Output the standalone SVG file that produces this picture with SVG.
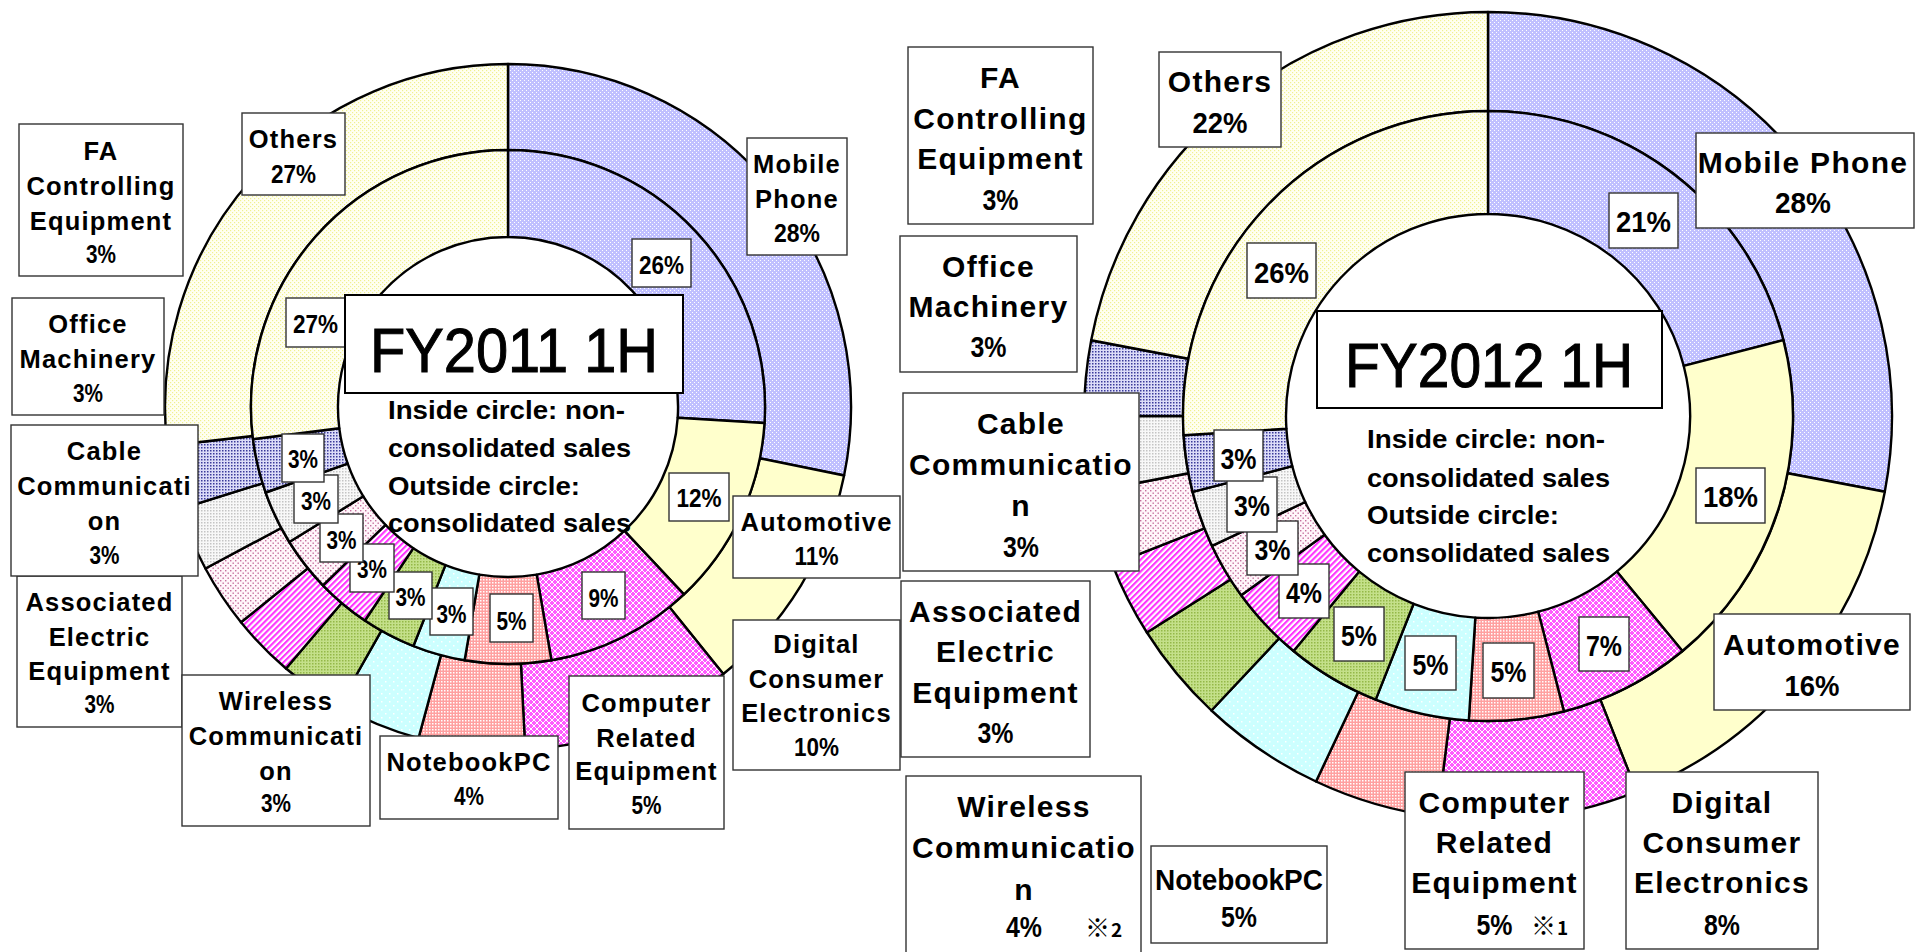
<svg xmlns="http://www.w3.org/2000/svg" width="1916" height="952" viewBox="0 0 1916 952">
<defs>
<style>
.sl{stroke:#000;stroke-width:2.4;stroke-linejoin:round}
.bx{fill:#fff;stroke:#333;stroke-width:1.4}
.tb{fill:#fff;stroke:#000;stroke-width:2}
text{font-family:"Liberation Sans",Arial,"Noto Sans CJK JP",sans-serif;fill:#000}
.l{font-size:25.5px;font-weight:bold;text-anchor:middle;letter-spacing:1.2px}
.lp{font-size:25.5px;font-weight:bold;text-anchor:middle}
.r{font-size:30px;font-weight:bold;text-anchor:middle;letter-spacing:1.3px}
.rp{font-size:30px;font-weight:bold;text-anchor:middle}
.t{font-size:63px;text-anchor:middle;stroke:#000;stroke-width:1}
.s{font-size:26.5px;font-weight:bold}
.m{font-weight:bold;font-family:"Noto Sans CJK JP","Liberation Sans",sans-serif}
.mk{font-size:25px}.mn{font-size:19px}
.mob{fill:url(#pMob)}.aut{fill:#FFFFCC}.dig{fill:url(#pDig)}.com{fill:url(#pCom)}.nb{fill:url(#pNb)}
.wir{fill:url(#pWir)}.asc{fill:url(#pAsc)}.cab{fill:url(#pCab)}.off{fill:url(#pOff)}.fa{fill:url(#pFa)}.oth{fill:url(#pOth)}
</style>
<pattern id="pMob" width="4" height="4" patternUnits="userSpaceOnUse"><rect width="4" height="4" fill="#C0C0FF"/><rect width="1" height="1" fill="#fff"/><rect x="2" y="2" width="1" height="1" fill="#fff"/></pattern>
<pattern id="pDig" width="6" height="6" patternUnits="userSpaceOnUse"><rect width="6" height="6" fill="#FF5CFF"/><path d="M0,0L6,6M6,0L0,6" stroke="#fff" stroke-width="1"/></pattern>
<pattern id="pCom" width="3" height="3" patternUnits="userSpaceOnUse"><rect width="3" height="3" fill="#FFA0A0"/><rect width="1.5" height="1.5" fill="#fff"/></pattern>
<pattern id="pNb" width="8" height="8" patternUnits="userSpaceOnUse"><rect width="8" height="8" fill="#CCFFFF"/><rect x="1" y="1" width="1.5" height="1.5" fill="#fff"/><rect x="5" y="5" width="1.5" height="1.5" fill="#fff"/></pattern>
<pattern id="pWir" width="3" height="3" patternUnits="userSpaceOnUse"><rect width="3" height="3" fill="#C4E08A"/><rect width="1.5" height="1.5" fill="#94B848"/></pattern>
<pattern id="pAsc" width="4.2" height="4.2" patternUnits="userSpaceOnUse" patternTransform="rotate(45)"><rect width="4.2" height="4.2" fill="#fff"/><rect width="2.1" height="4.2" fill="#FF33FF"/></pattern>
<pattern id="pCab" width="5" height="5" patternUnits="userSpaceOnUse"><rect width="5" height="5" fill="#FFF6FA"/><rect width="1.4" height="1.4" fill="#C46E9C"/><rect x="2.5" y="2.5" width="1.4" height="1.4" fill="#C46E9C"/></pattern>
<pattern id="pOff" width="3" height="3" patternUnits="userSpaceOnUse"><rect width="3" height="3" fill="#F8F8F8"/><rect width="1.5" height="1.5" fill="#C4C4C4"/></pattern>
<pattern id="pFa" width="3" height="3" patternUnits="userSpaceOnUse"><rect width="3" height="3" fill="#DCDCF8"/><rect width="1.5" height="1.5" fill="#3A3A9A"/></pattern>
<pattern id="pOth" width="4" height="4" patternUnits="userSpaceOnUse"><rect width="4" height="4" fill="#FFFFF2"/><rect width="1.2" height="1.2" fill="#F0F090"/><rect x="2" y="2" width="1.2" height="1.2" fill="#F0F090"/></pattern>
</defs>
<rect width="1916" height="952" fill="#fff"/>

<g id="chart-fy2011-outer">
<path class="sl mob" d="M508,64A343,343 0 0 1 844.1,475.5L759.8,458.3A257,257 0 0 0 508,150Z"/>
<path class="sl aut" d="M844.1,475.5A343,343 0 0 1 723.3,674L669.3,607.1A257,257 0 0 0 759.8,458.3Z"/>
<path class="sl dig" d="M723.3,674A343,343 0 0 1 525.2,749.6L520.9,663.7A257,257 0 0 0 669.3,607.1Z"/>
<path class="sl com" d="M525.2,749.6A343,343 0 0 1 418.5,738.1L441,655.1A257,257 0 0 0 520.9,663.7Z"/>
<path class="sl nb" d="M418.5,738.1A343,343 0 0 1 339,705.5L381.4,630.6A257,257 0 0 0 441,655.1Z"/>
<path class="sl wir" d="M339,705.5A343,343 0 0 1 286,668.5L341.7,603A257,257 0 0 0 381.4,630.6Z"/>
<path class="sl asc" d="M286,668.5A343,343 0 0 1 241,622.3L307.9,568.3A257,257 0 0 0 341.7,603Z"/>
<path class="sl cab" d="M241,622.3A343,343 0 0 1 205.4,568.5L281.2,528A257,257 0 0 0 307.9,568.3Z"/>
<path class="sl off" d="M205.4,568.5A343,343 0 0 1 180.5,508.9L262.6,483.3A257,257 0 0 0 281.2,528Z"/>
<path class="sl fa" d="M180.5,508.9A343,343 0 0 1 167.2,445.7L252.6,436A257,257 0 0 0 262.6,483.3Z"/>
<path class="sl oth" d="M167.2,445.7A343,343 0 0 1 508,64L508,150A257,257 0 0 0 252.6,436Z"/>
</g>
<g id="chart-fy2011-inner">
<path class="sl mob" d="M508,150A257,257 0 0 1 764.5,423.1L677.7,417.7A170,170 0 0 0 508,237Z"/>
<path class="sl aut" d="M764.5,423.1A257,257 0 0 1 683.9,594.4L624.4,530.9A170,170 0 0 0 677.7,417.7Z"/>
<path class="sl dig" d="M683.9,594.4A257,257 0 0 1 551.4,660.3L536.7,574.6A170,170 0 0 0 624.4,530.9Z"/>
<path class="sl com" d="M551.4,660.3A257,257 0 0 1 464.6,660.3L479.3,574.6A170,170 0 0 0 536.7,574.6Z"/>
<path class="sl nb" d="M464.6,660.3A257,257 0 0 1 413.4,646L445.4,565.1A170,170 0 0 0 479.3,574.6Z"/>
<path class="sl wir" d="M413.4,646A257,257 0 0 1 364.9,620.5L413.3,548.2A170,170 0 0 0 445.4,565.1Z"/>
<path class="sl asc" d="M364.9,620.5A257,257 0 0 1 322.9,585.3L385.5,524.9A170,170 0 0 0 413.3,548.2Z"/>
<path class="sl cab" d="M322.9,585.3A257,257 0 0 1 289.3,542L363.3,496.3A170,170 0 0 0 385.5,524.9Z"/>
<path class="sl off" d="M289.3,542A257,257 0 0 1 265.6,492.5L347.7,463.6A170,170 0 0 0 363.3,496.3Z"/>
<path class="sl fa" d="M265.6,492.5A257,257 0 0 1 253,439.2L339.3,428.3A170,170 0 0 0 347.7,463.6Z"/>
<path class="sl oth" d="M253,439.2A257,257 0 0 1 508,150L508,237A170,170 0 0 0 339.3,428.3Z"/>
</g>

<g id="chart-fy2012-outer">
<path class="sl mob" d="M1488,12A404,404 0 0 1 1884.8,491.7L1787.6,473.2A305,305 0 0 0 1488,111Z"/>
<path class="sl aut" d="M1884.8,491.7A404,404 0 0 1 1636.7,791.6L1600.3,699.6A305,305 0 0 0 1787.6,473.2Z"/>
<path class="sl dig" d="M1636.7,791.6A404,404 0 0 1 1437.4,816.8L1449.8,718.6A305,305 0 0 0 1600.3,699.6Z"/>
<path class="sl com" d="M1437.4,816.8A404,404 0 0 1 1316,781.5L1358.1,692A305,305 0 0 0 1449.8,718.6Z"/>
<path class="sl nb" d="M1316,781.5A404,404 0 0 1 1211.4,710.5L1279.2,638.3A305,305 0 0 0 1358.1,692Z"/>
<path class="sl wir" d="M1211.4,710.5A404,404 0 0 1 1146.9,632.5L1230.5,579.4A305,305 0 0 0 1279.2,638.3Z"/>
<path class="sl asc" d="M1146.9,632.5A404,404 0 0 1 1112.4,564.7L1204.4,528.3A305,305 0 0 0 1230.5,579.4Z"/>
<path class="sl cab" d="M1112.4,564.7A404,404 0 0 1 1091.2,491.7L1188.4,473.2A305,305 0 0 0 1204.4,528.3Z"/>
<path class="sl off" d="M1091.2,491.7A404,404 0 0 1 1084,416L1183,416A305,305 0 0 0 1188.4,473.2Z"/>
<path class="sl fa" d="M1084,416A404,404 0 0 1 1091.2,340.3L1188.4,358.8A305,305 0 0 0 1183,416Z"/>
<path class="sl oth" d="M1091.2,340.3A404,404 0 0 1 1488,12L1488,111A305,305 0 0 0 1188.4,358.8Z"/>
</g>
<g id="chart-fy2012-inner">
<path class="sl mob" d="M1488,111A305,305 0 0 1 1783.4,340.1L1683.7,365.8A202,202 0 0 0 1488,214Z"/>
<path class="sl aut" d="M1783.4,340.1A305,305 0 0 1 1682.4,651L1616.8,571.6A202,202 0 0 0 1683.7,365.8Z"/>
<path class="sl dig" d="M1682.4,651A305,305 0 0 1 1563.9,711.4L1538.2,611.7A202,202 0 0 0 1616.8,571.6Z"/>
<path class="sl com" d="M1563.9,711.4A305,305 0 0 1 1468.8,720.4L1475.3,617.6A202,202 0 0 0 1538.2,611.7Z"/>
<path class="sl nb" d="M1468.8,720.4A305,305 0 0 1 1375.7,699.6L1413.6,603.8A202,202 0 0 0 1475.3,617.6Z"/>
<path class="sl wir" d="M1375.7,699.6A305,305 0 0 1 1293.6,651L1359.2,571.6A202,202 0 0 0 1413.6,603.8Z"/>
<path class="sl asc" d="M1293.6,651A305,305 0 0 1 1241.2,595.3L1324.6,534.7A202,202 0 0 0 1359.2,571.6Z"/>
<path class="sl cab" d="M1241.2,595.3A305,305 0 0 1 1212,545.9L1305.2,502A202,202 0 0 0 1324.6,534.7Z"/>
<path class="sl off" d="M1212,545.9A305,305 0 0 1 1192.6,491.9L1292.3,466.2A202,202 0 0 0 1305.2,502Z"/>
<path class="sl fa" d="M1192.6,491.9A305,305 0 0 1 1183.6,435.2L1286.4,428.7A202,202 0 0 0 1292.3,466.2Z"/>
<path class="sl oth" d="M1183.6,435.2A305,305 0 0 1 1488,111L1488,214A202,202 0 0 0 1286.4,428.7Z"/>
</g>

<g id="labels-fy2011-inner">
<g id="l11-in-mob"><rect class="bx" x="632" y="239" width="59" height="48"/><text class="lp" x="661.5" y="274" textLength="45" lengthAdjust="spacingAndGlyphs">26%</text></g>
<g id="l11-in-aut"><rect class="bx" x="669" y="473" width="60" height="48"/><text class="lp" x="699" y="507" textLength="45" lengthAdjust="spacingAndGlyphs">12%</text></g>
<g id="l11-in-dig"><rect class="bx" x="582" y="572" width="43" height="47"/><text class="lp" x="603.5" y="607" textLength="30" lengthAdjust="spacingAndGlyphs">9%</text></g>
<g id="l11-in-com"><rect class="bx" x="490" y="594" width="43" height="48"/><text class="lp" x="511.5" y="630" textLength="30" lengthAdjust="spacingAndGlyphs">5%</text></g>
<g id="l11-in-nb"><rect class="bx" x="430" y="588" width="43" height="47"/><text class="lp" x="451.5" y="623" textLength="30" lengthAdjust="spacingAndGlyphs">3%</text></g>
<g id="l11-in-wir"><rect class="bx" x="389" y="572" width="43" height="47"/><text class="lp" x="410.5" y="606" textLength="30" lengthAdjust="spacingAndGlyphs">3%</text></g>
<g id="l11-in-asc"><rect class="bx" x="350" y="544" width="44" height="48"/><text class="lp" x="372" y="578" textLength="30" lengthAdjust="spacingAndGlyphs">3%</text></g>
<g id="l11-in-cab"><rect class="bx" x="320" y="514" width="43" height="48"/><text class="lp" x="341.5" y="549" textLength="30" lengthAdjust="spacingAndGlyphs">3%</text></g>
<g id="l11-in-off"><rect class="bx" x="294" y="475" width="44" height="48"/><text class="lp" x="316" y="510" textLength="30" lengthAdjust="spacingAndGlyphs">3%</text></g>
<g id="l11-in-fa"><rect class="bx" x="282" y="434" width="42" height="48"/><text class="lp" x="303" y="468" textLength="30" lengthAdjust="spacingAndGlyphs">3%</text></g>
<g id="l11-in-oth"><rect class="bx" x="286" y="298" width="59" height="49"/><text class="lp" x="315.5" y="333" textLength="45" lengthAdjust="spacingAndGlyphs">27%</text></g>
</g>

<g id="labels-fy2011-outer">
<g id="l11-mob"><rect class="bx" x="747" y="138" width="100" height="117"/><text class="l" x="797" y="173">Mobile</text><text class="l" x="797" y="208">Phone</text><text class="lp" x="797" y="242" textLength="46" lengthAdjust="spacingAndGlyphs">28%</text></g>
<g id="l11-aut"><rect class="bx" x="733" y="496" width="167" height="82"/><text class="l" x="816.5" y="531">Automotive</text><text class="lp" x="816.5" y="565" textLength="44" lengthAdjust="spacingAndGlyphs">11%</text></g>
<g id="l11-dig"><rect class="bx" x="733" y="620" width="167" height="150"/><text class="l" x="816.5" y="653">Digital</text><text class="l" x="816.5" y="688">Consumer</text><text class="l" x="816.5" y="722">Electronics</text><text class="lp" x="816.5" y="756" textLength="45" lengthAdjust="spacingAndGlyphs">10%</text></g>
<g id="l11-com"><rect class="bx" x="569" y="676" width="155" height="153"/><text class="l" x="646.5" y="712">Computer</text><text class="l" x="646.5" y="747">Related</text><text class="l" x="646.5" y="780">Equipment</text><text class="lp" x="646.5" y="814" textLength="30" lengthAdjust="spacingAndGlyphs">5%</text></g>
<g id="l11-nb"><rect class="bx" x="380" y="736" width="178" height="83"/><text class="l" x="469" y="771">NotebookPC</text><text class="lp" x="469" y="805" textLength="30" lengthAdjust="spacingAndGlyphs">4%</text></g>
<g id="l11-asc"><rect class="bx" x="17" y="576" width="165" height="151"/><text class="l" x="99.5" y="611">Associated</text><text class="l" x="99.5" y="646">Electric</text><text class="l" x="99.5" y="680">Equipment</text><text class="lp" x="99.5" y="713" textLength="30" lengthAdjust="spacingAndGlyphs">3%</text></g>
<g id="l11-wir"><rect class="bx" x="182" y="675" width="188" height="151"/><text class="l" x="276" y="710">Wireless</text><text class="l" x="276" y="745">Communicati</text><text class="l" x="276" y="780">on</text><text class="lp" x="276" y="812" textLength="30" lengthAdjust="spacingAndGlyphs">3%</text></g>
<g id="l11-cab"><rect class="bx" x="11" y="425" width="187" height="151"/><text class="l" x="104.5" y="460">Cable</text><text class="l" x="104.5" y="495">Communicati</text><text class="l" x="104.5" y="530">on</text><text class="lp" x="104.5" y="564" textLength="30" lengthAdjust="spacingAndGlyphs">3%</text></g>
<g id="l11-off"><rect class="bx" x="12" y="298" width="152" height="117"/><text class="l" x="88" y="333">Office</text><text class="l" x="88" y="368">Machinery</text><text class="lp" x="88" y="402" textLength="30" lengthAdjust="spacingAndGlyphs">3%</text></g>
<g id="l11-fa"><rect class="bx" x="19" y="124" width="164" height="152"/><text class="l" x="101" y="160">FA</text><text class="l" x="101" y="195">Controlling</text><text class="l" x="101" y="230">Equipment</text><text class="lp" x="101" y="263" textLength="30" lengthAdjust="spacingAndGlyphs">3%</text></g>
<g id="l11-oth"><rect class="bx" x="242" y="113" width="103" height="82"/><text class="l" x="293.5" y="148">Others</text><text class="lp" x="293.5" y="183" textLength="45" lengthAdjust="spacingAndGlyphs">27%</text></g>
</g>

<g id="title-fy2011">
<rect class="tb" x="345" y="295" width="338" height="98"/>
<text class="t" x="514" y="372" textLength="288" lengthAdjust="spacingAndGlyphs">FY2011 1H</text>
<text class="s" x="388" y="419" textLength="237" lengthAdjust="spacingAndGlyphs">Inside circle: non-</text>
<text class="s" x="388" y="457" textLength="243" lengthAdjust="spacingAndGlyphs">consolidated sales</text>
<text class="s" x="388" y="495" textLength="192" lengthAdjust="spacingAndGlyphs">Outside circle:</text>
<text class="s" x="388" y="532" textLength="243" lengthAdjust="spacingAndGlyphs">consolidated sales</text>
</g>

<g id="labels-fy2012-inner">
<g id="l12-in-mob"><rect class="bx" x="1609" y="193" width="69" height="55"/><text class="rp" x="1643.5" y="232" textLength="55" lengthAdjust="spacingAndGlyphs">21%</text></g>
<g id="l12-in-aut"><rect class="bx" x="1696" y="468" width="69" height="55"/><text class="rp" x="1730.5" y="507" textLength="55" lengthAdjust="spacingAndGlyphs">18%</text></g>
<g id="l12-in-dig"><rect class="bx" x="1579" y="617" width="50" height="54"/><text class="rp" x="1604" y="656" textLength="36" lengthAdjust="spacingAndGlyphs">7%</text></g>
<g id="l12-in-com"><rect class="bx" x="1483" y="643" width="51" height="55"/><text class="rp" x="1508.5" y="682" textLength="36" lengthAdjust="spacingAndGlyphs">5%</text></g>
<g id="l12-in-nb"><rect class="bx" x="1405" y="636" width="51" height="54"/><text class="rp" x="1430.5" y="675" textLength="36" lengthAdjust="spacingAndGlyphs">5%</text></g>
<g id="l12-in-wir"><rect class="bx" x="1334" y="607" width="50" height="54"/><text class="rp" x="1359" y="646" textLength="36" lengthAdjust="spacingAndGlyphs">5%</text></g>
<g id="l12-in-asc"><rect class="bx" x="1279" y="564" width="50" height="54"/><text class="rp" x="1304" y="603" textLength="36" lengthAdjust="spacingAndGlyphs">4%</text></g>
<g id="l12-in-cab"><rect class="bx" x="1247" y="521" width="51" height="54"/><text class="rp" x="1272.5" y="560" textLength="36" lengthAdjust="spacingAndGlyphs">3%</text></g>
<g id="l12-in-off"><rect class="bx" x="1227" y="477" width="50" height="55"/><text class="rp" x="1252" y="516" textLength="36" lengthAdjust="spacingAndGlyphs">3%</text></g>
<g id="l12-in-fa"><rect class="bx" x="1214" y="430" width="49" height="51"/><text class="rp" x="1238.5" y="469" textLength="36" lengthAdjust="spacingAndGlyphs">3%</text></g>
<g id="l12-in-oth"><rect class="bx" x="1247" y="243" width="69" height="55"/><text class="rp" x="1281.5" y="283" textLength="55" lengthAdjust="spacingAndGlyphs">26%</text></g>
</g>

<g id="labels-fy2012-outer">
<g id="l12-mob"><rect class="bx" x="1696" y="133" width="218" height="95"/><text class="r" x="1803" y="173">Mobile Phone</text><text class="rp" x="1803" y="213" textLength="56" lengthAdjust="spacingAndGlyphs">28%</text></g>
<g id="l12-aut"><rect class="bx" x="1714" y="614" width="196" height="96"/><text class="r" x="1812" y="655">Automotive</text><text class="rp" x="1812" y="696" textLength="55" lengthAdjust="spacingAndGlyphs">16%</text></g>
<g id="l12-dig"><rect class="bx" x="1626" y="772" width="192" height="177"/><text class="r" x="1722" y="813">Digital</text><text class="r" x="1722" y="853">Consumer</text><text class="r" x="1722" y="893">Electronics</text><text class="rp" x="1722" y="935" textLength="36" lengthAdjust="spacingAndGlyphs">8%</text></g>
<g id="l12-com"><rect class="bx" x="1405" y="772" width="179" height="177"/><text class="r" x="1494.5" y="813">Computer</text><text class="r" x="1494.5" y="853">Related</text><text class="r" x="1494.5" y="893">Equipment</text><text class="rp" x="1494.5" y="935" textLength="36" lengthAdjust="spacingAndGlyphs">5%</text><text class="m" x="1531" y="935"><tspan class="mk">※</tspan><tspan class="mn" dx="1">1</tspan></text></g>
<g id="l12-nb"><rect class="bx" x="1151" y="846" width="176" height="97"/><text class="rp" x="1239" y="890" textLength="168" lengthAdjust="spacingAndGlyphs">NotebookPC</text><text class="rp" x="1239" y="927" textLength="36" lengthAdjust="spacingAndGlyphs">5%</text></g>
<g id="l12-wir"><rect class="bx" x="906" y="776" width="235" height="180"/><text class="r" x="1024" y="817">Wireless</text><text class="r" x="1024" y="858">Communicatio</text><text class="r" x="1024" y="900">n</text><text class="rp" x="1024" y="937" textLength="36" lengthAdjust="spacingAndGlyphs">4%</text><text class="m" x="1085" y="937"><tspan class="mk">※</tspan><tspan class="mn" dx="1">2</tspan></text></g>
<g id="l12-asc"><rect class="bx" x="901" y="581" width="189" height="176"/><text class="r" x="995.5" y="622">Associated</text><text class="r" x="995.5" y="662">Electric</text><text class="r" x="995.5" y="703">Equipment</text><text class="rp" x="995.5" y="743" textLength="36" lengthAdjust="spacingAndGlyphs">3%</text></g>
<g id="l12-cab"><rect class="bx" x="903" y="393" width="236" height="178"/><text class="r" x="1021" y="434">Cable</text><text class="r" x="1021" y="475">Communicatio</text><text class="r" x="1021" y="516">n</text><text class="rp" x="1021" y="557" textLength="36" lengthAdjust="spacingAndGlyphs">3%</text></g>
<g id="l12-off"><rect class="bx" x="900" y="236" width="177" height="136"/><text class="r" x="988.5" y="277">Office</text><text class="r" x="988.5" y="317">Machinery</text><text class="rp" x="988.5" y="357" textLength="36" lengthAdjust="spacingAndGlyphs">3%</text></g>
<g id="l12-fa"><rect class="bx" x="908" y="47" width="185" height="177"/><text class="r" x="1000.5" y="88">FA</text><text class="r" x="1000.5" y="129">Controlling</text><text class="r" x="1000.5" y="169">Equipment</text><text class="rp" x="1000.5" y="210" textLength="36" lengthAdjust="spacingAndGlyphs">3%</text></g>
<g id="l12-oth"><rect class="bx" x="1159" y="52" width="122" height="95"/><text class="r" x="1220" y="92">Others</text><text class="rp" x="1220" y="133" textLength="55" lengthAdjust="spacingAndGlyphs">22%</text></g>
</g>

<g id="title-fy2012">
<rect class="tb" x="1317" y="311" width="345" height="97"/>
<text class="t" x="1489" y="387" textLength="288" lengthAdjust="spacingAndGlyphs">FY2012 1H</text>
<text class="s" x="1367" y="448" textLength="238" lengthAdjust="spacingAndGlyphs">Inside circle: non-</text>
<text class="s" x="1367" y="487" textLength="243" lengthAdjust="spacingAndGlyphs">consolidated sales</text>
<text class="s" x="1367" y="524" textLength="192" lengthAdjust="spacingAndGlyphs">Outside circle:</text>
<text class="s" x="1367" y="562" textLength="243" lengthAdjust="spacingAndGlyphs">consolidated sales</text>
</g>
</svg>
